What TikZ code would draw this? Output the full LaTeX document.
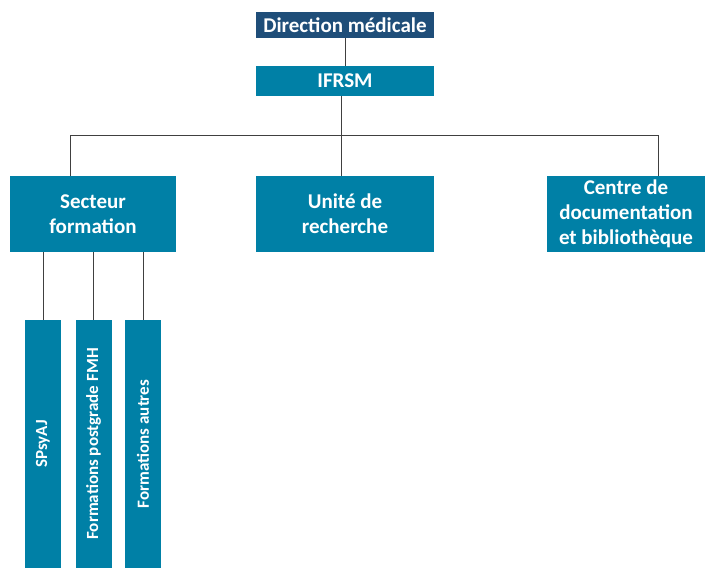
\documentclass[tikz,border=0pt]{standalone}
\usepackage{fontspec}
\setmainfont{Carlito}
\definecolor{dirblue}{HTML}{1F4E79}
\definecolor{unitblue}{HTML}{0080A6}
\tikzset{
  unit/.style={fill=unitblue, text=white, inner sep=0pt, align=center,
    font=\bfseries\fontsize{21}{25}\selectfont},
  sub/.style={unit, rotate=90, minimum width=248pt, minimum height=36pt,
    font=\bfseries\fontsize{17}{20}\selectfont},
  link/.style={draw=black!75, line width=0.8pt}
}
\begin{document}
\begin{tikzpicture}[x=1pt,y=-1pt]
\useasboundingbox (0,0) rectangle (705,568);

\node[unit, fill=dirblue, minimum width=178pt, minimum height=26pt] at (345,25) (dir) {Direction médicale};
\node[unit, minimum width=178pt, minimum height=30pt] at (345,81) (ifrsm) {IFRSM};

\node[unit, minimum width=166pt, minimum height=76pt] at (93,214) (secteur) {Secteur\\formation};
\node[unit, minimum width=178pt, minimum height=76pt] at (345,214) (unite) {Unité de\\recherche};
\node[unit, minimum width=158pt, minimum height=76pt] at (626,214) (centre) {Centre de\\documentation\\et bibliothèque};

\node[sub] at (43,444) (spsyaj) {SPsyAJ};
\node[sub] at (93.5,444) (postgrade) {Formations postgrade FMH};
\node[sub] at (143,444) (autres) {Formations autres};

% hierarchy
\coordinate (bl) at (70,135);
\coordinate (br) at (658,135);
\draw[link] (dir) -- (ifrsm);
\draw[link] (ifrsm.south -| 341,0) -- (unite.north -| 341,0);
\draw[link] (bl |- secteur.north) -- (bl) -- (br) -- (br |- centre.north);

% sous-formations
\draw[link] (spsyaj.east) -- (spsyaj.east |- secteur.south);
\draw[link] (postgrade.east) -- (postgrade.east |- secteur.south);
\draw[link] (autres.east) -- (autres.east |- secteur.south);

\end{tikzpicture}
\end{document}
